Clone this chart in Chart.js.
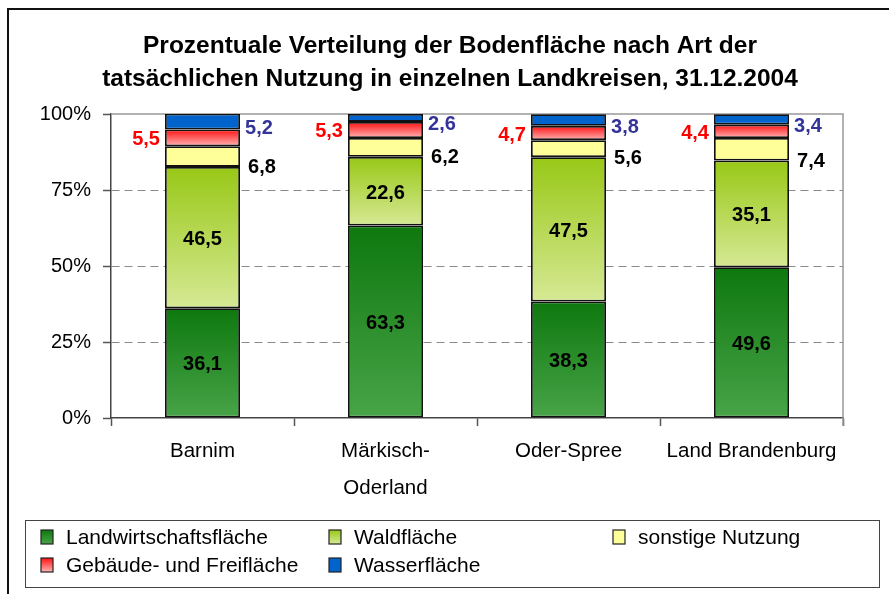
<!DOCTYPE html>
<html>
<head>
<meta charset="utf-8">
<script src="https://cdn.jsdelivr.net/npm/chart.js@4"></script>
<style>
  html, body { margin: 0; padding: 0; background: #fff; }
  #wrap { width: 889px; height: 594px; position: relative; }
</style>
</head>
<body>
<div id="wrap"><canvas id="myChart" width="889" height="594"></canvas></div>
<script>
const titleLines = ["Prozentuale Verteilung der Bodenfläche nach Art der",
  "tatsächlichen Nutzung in einzelnen Landkreisen, 31.12.2004"];
const categories = [["Barnim"], ["Märkisch-", "Oderland"], ["Oder-Spree"], ["Land Brandenburg"]];
const seriesNames = ["Landwirtschaftsfläche", "Waldfläche", "sonstige Nutzung", "Gebäude- und Freifläche", "Wasserfläche"];
const landwirtschaft = [36.1, 63.3, 38.3, 49.6];
const wald = [46.5, 22.6, 47.5, 35.1];
const sonstige = [6.8, 6.2, 5.6, 7.4];
const gebaeude = [5.5, 5.3, 4.7, 4.4];
const wasser = [5.2, 2.6, 3.8, 3.4];
const yTickValues = [0, 25, 50, 75, 100];

const FONT = "'Liberation Sans', Arial, sans-serif";

// top / bottom colours of each series gradient
const fills = [
  ["#0e780e", "#48a448"],
  ["#98c816", "#d6e995"],
  ["#ffff99", "#ffff99"],
  ["#ff1010", "#ffb4b4"],
  ["#0064cc", "#0064cc"]
];
// where the value label goes and its colour
const labelStyle = [
  { pos: "center", color: "#000" },
  { pos: "center", color: "#000" },
  { pos: "rightLow", color: "#000" },
  { pos: "left", color: "#ff0000" },
  { pos: "rightHigh", color: "#333399" }
];

function segGradient(c) {
  const chart = c.chart;
  const f = fills[c.datasetIndex];
  const y = chart.scales.y;
  if (c.type !== "data" || !y) return f[1];
  const i = c.dataIndex;
  let start = 0;
  for (let k = 0; k < c.datasetIndex; k++) start += chart.data.datasets[k].data[i];
  const end = start + chart.data.datasets[c.datasetIndex].data[i];
  const y0 = y.getPixelForValue(end), y1 = y.getPixelForValue(start);
  if (!isFinite(y0) || !isFinite(y1)) return f[1];
  const g = chart.ctx.createLinearGradient(0, y0, 0, y1);
  g.addColorStop(0, f[0]);
  g.addColorStop(1, f[1]);
  return g;
}

const fmt = v => v.toFixed(1).replace(".", ",");

const decor = {
  id: "decor",
  beforeDraw(chart) {
    const ctx = chart.ctx;
    ctx.save();
    ctx.fillStyle = "#fff";
    ctx.fillRect(0, 0, chart.width, chart.height);
    ctx.restore();
  },
  beforeDatasetsDraw(chart) {
    const ctx = chart.ctx, a = chart.chartArea;
    ctx.save();
    ctx.strokeStyle = "#999";
    ctx.lineWidth = 1.5;
    ctx.beginPath();
    ctx.moveTo(a.left, a.top);
    ctx.lineTo(a.right, a.top);
    ctx.lineTo(a.right, a.bottom + 8);
    ctx.stroke();
    ctx.restore();
  },
  afterDraw(chart) {
    const ctx = chart.ctx;
    ctx.save();
    // outer frame
    ctx.strokeStyle = "#111";
    ctx.lineWidth = 2;
    ctx.strokeRect(8, 9, 900, 600);

    // title
    ctx.fillStyle = "#000";
    ctx.font = "bold 24.5px " + FONT;
    ctx.textAlign = "center";
    ctx.textBaseline = "middle";
    ctx.fillText(titleLines[0], 450, 46);
    ctx.fillText(titleLines[1], 450, 79);

    // value labels
    ctx.font = "bold 20px " + FONT;
    chart.data.datasets.forEach((ds, d) => {
      const meta = chart.getDatasetMeta(d);
      const st = labelStyle[d];
      meta.data.forEach((el, i) => {
        const p = el.getProps(["x", "y", "base", "width"], true);
        const txt = fmt(ds.data[i]);
        const mid = (p.y + p.base) / 2 + 2;
        ctx.fillStyle = st.color;
        if (st.pos === "center") {
          ctx.textAlign = "center";
          ctx.fillText(txt, p.x, mid);
        } else if (st.pos === "left") {
          ctx.textAlign = "right";
          ctx.fillText(txt, p.x - p.width / 2 - 5, mid);
        } else if (st.pos === "rightLow") {
          ctx.textAlign = "left";
          ctx.fillText(txt, p.x + p.width / 2 + 8, p.base + 1);
        } else {
          ctx.textAlign = "left";
          ctx.fillText(txt, p.x + p.width / 2 + 5, mid + 5);
        }
      });
    });

    // legend
    ctx.strokeStyle = "#444";
    ctx.lineWidth = 1;
    ctx.strokeRect(25.5, 520.5, 854, 67);
    const slots = [[41, 537], [329, 537], [613, 537], [41, 565], [329, 565]];
    ctx.font = "21px " + FONT;
    ctx.textAlign = "left";
    seriesNames.forEach((name, k) => {
      const [x, y] = slots[k];
      const g = ctx.createLinearGradient(0, y - 7, 0, y + 7);
      g.addColorStop(0, fills[k][0]);
      g.addColorStop(1, fills[k][1]);
      ctx.fillStyle = g;
      ctx.fillRect(x, y - 7, 12, 14);
      ctx.strokeStyle = "#222";
      ctx.lineWidth = 1.2;
      ctx.strokeRect(x, y - 7, 12, 14);
      ctx.fillStyle = "#000";
      ctx.fillText(name, x + 25, y + 1);
    });
    ctx.restore();
  }
};

const seriesData = [landwirtschaft, wald, sonstige, gebaeude, wasser];

const chart = new Chart(document.getElementById("myChart").getContext("2d"), {
  type: "bar",
  data: {
    labels: categories,
    datasets: seriesData.map((arr, k) => ({
      label: seriesNames[k],
      data: arr,
      backgroundColor: segGradient,
      borderColor: "#111",
      borderWidth: 1.8,
      borderSkipped: false,
      categoryPercentage: 1,
      barPercentage: 0.41
    }))
  },
  options: {
    responsive: false,
    animation: false,
    devicePixelRatio: 1,
    layout: { padding: { top: 114, right: 46, bottom: 86, left: 0 } },
    plugins: {
      legend: { display: false },
      title: { display: false },
      tooltip: { enabled: false }
    },
    scales: {
      x: {
        stacked: true,
        afterFit(s) { s.height = 90; },
        grid: { drawOnChartArea: false, drawTicks: true, tickLength: 8, tickColor: "#555", tickWidth: 1.5 },
        border: { color: "#444", width: 1.5 },
        ticks: { color: "#000", padding: 7, font: { family: FONT, size: 20.5, lineHeight: 1.8 } }
      },
      y: {
        stacked: true,
        min: 0,
        max: 100,
        afterFit(s) { s.width = 111; },
        afterBuildTicks(s) { s.ticks = yTickValues.map(v => ({ value: v })); },
        grid: {
          color: c => (c.tick && (c.tick.value === 0 || c.tick.value === 100)) ? "rgba(0,0,0,0)" : "#8a8a8a",
          lineWidth: 1,
          tickLength: 8,
          tickColor: "#555",
          tickWidth: 1.5
        },
        border: { color: "#444", width: 1.5, dash: [8, 5] },
        ticks: {
          color: "#000",
          padding: 12,
          font: { family: FONT, size: 20 },
          callback: v => v + "%"
        }
      }
    }
  },
  plugins: [decor]
});
</script>
</body>
</html>
